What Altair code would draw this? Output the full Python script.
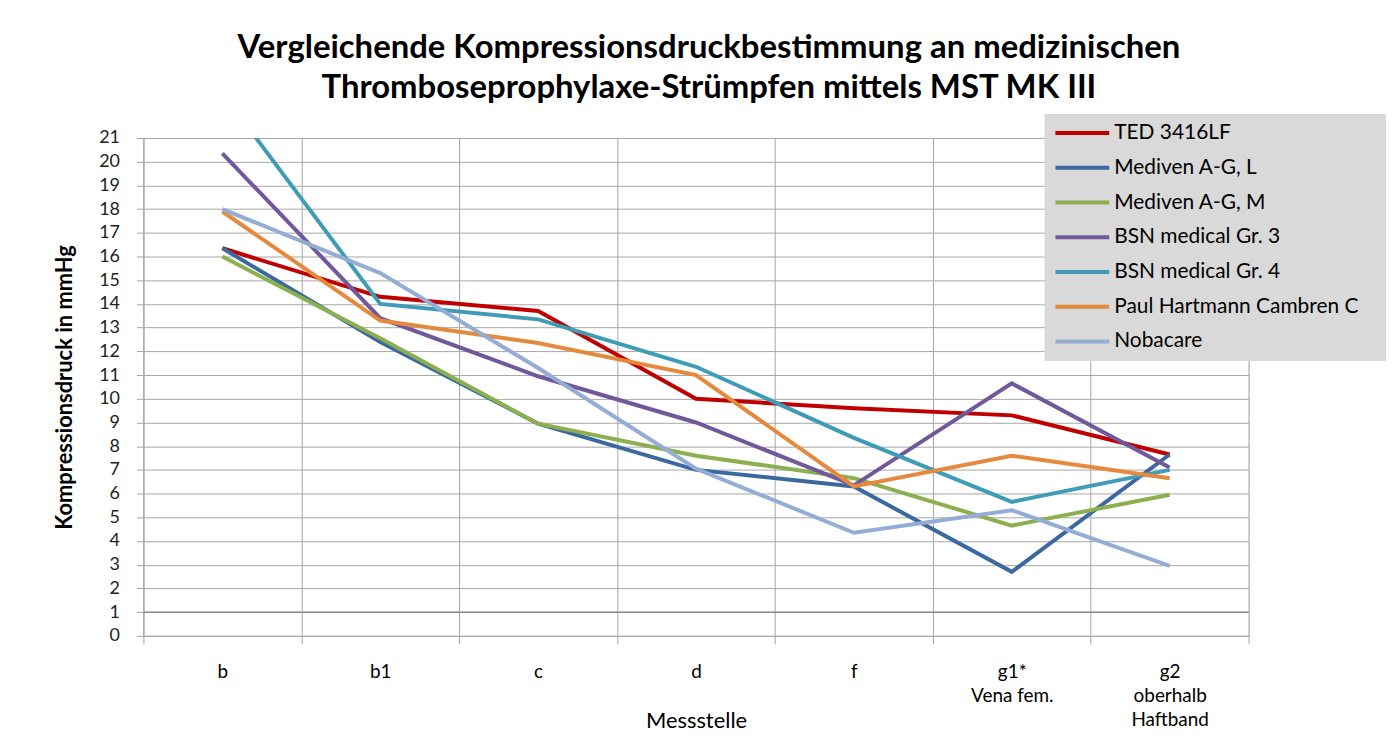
import altair as alt
import pandas as pd

# --- data ---------------------------------------------------------------
categories = ["b", "b1", "c", "d", "f", "g1*\nVena fem.", "g2\noberhalb\nHaftband"]

series = [
    "TED 3416LF",
    "Mediven A-G, L",
    "Mediven A-G, M",
    "BSN medical Gr. 3",
    "BSN medical Gr. 4",
    "Paul Hartmann Cambren C",
    "Nobacare",
]

ted = [16.35, 14.3, 13.7, 10.0, 9.6, 9.3, 7.65]
mediven_l = [16.35, 12.4, 8.95, 7.0, 6.3, 2.7, 7.65]
mediven_m = [16.0, 12.55, 8.95, 7.6, 6.65, 4.65, 5.95]
bsn3 = [20.35, 13.4, 10.95, 9.0, 6.35, 10.65, 7.1]
bsn4 = [22.9, 14.0, 13.35, 11.35, 8.35, 5.65, 7.0]
hartmann = [17.9, 13.3, 12.35, 11.0, 6.3, 7.6, 6.65]
nobacare = [18.0, 15.3, 11.3, 7.05, 4.35, 5.3, 2.95]

colors = ["#C00000", "#3C68A0", "#8CAF4F", "#71589A", "#3F9CB6", "#E5893D", "#94ADD4"]

y_ticks = list(range(0, 22))
axis_cross = [1]

title_lines = [
    "Vergleichende Kompressionsdruckbestimmung an medizinischen",
    "Thromboseprophylaxe-Strümpfen mittels MST MK III",
]

# --- table --------------------------------------------------------------
values = [ted, mediven_l, mediven_m, bsn3, bsn4, hartmann, nobacare]
rows = []
for name, vals in zip(series, values):
    for i, (cat, v) in enumerate(zip(categories, vals)):
        rows.append({"Serie": name, "Messstelle": cat, "idx": i, "Wert": v})
df = pd.DataFrame(rows)

FONT = "Lato"
GRID = "#a6a6a6"
Y_TITLE = "Kompressionsdruck in mmHg"

pad_label = "\u00a0" * 10 + "\u2800"
label_expr = (
    "datum.label == 'Paul Hartmann Cambren C' ? datum.label + '" + pad_label + "' : datum.label"
)

y_axis = alt.Axis(
    title=Y_TITLE,
    values=y_ticks,
    labelFont=FONT,
    labelFontSize=18,
    labelColor="#222222",
    labelPadding=17,
    tickSize=7,
    tickColor=GRID,
    domainColor=GRID,
    grid=True,
    gridColor=GRID,
    titleFont=FONT,
    titleFontSize=22,
    titleFontWeight="bold",
    titleColor="#000000",
    titleX=-79,
    titleBaseline="middle",
)
y_scale = alt.Scale(domain=[0, 21], nice=False, zero=True)

lines = alt.Chart(df).mark_line(strokeWidth=4, clip=True).encode(
    x=alt.X(
        "Messstelle:N",
        sort=categories,
        bandPosition=0.5,
        scale=alt.Scale(type="band", paddingInner=0, paddingOuter=0),
        axis=alt.Axis(
            title="Messstelle",
            labelAngle=0,
            labelExpr="split(datum.label, '\\n')",
            labelLineHeight=24,
            labelFont=FONT,
            labelFontSize=19,
            labelColor="#000000",
            labelPadding=19,
            labelBaseline="top",
            tickBand="extent",
            tickSize=8,
            tickColor=GRID,
            domainColor=GRID,
            grid=True,
            gridColor=GRID,
            titleFont=FONT,
            titleFontSize=22,
            titleFontWeight="normal",
            titleColor="#000000",
            titleY=85,
            titleBaseline="middle",
        ),
    ),
    y=alt.Y("Wert:Q", scale=y_scale, axis=y_axis),
    color=alt.Color(
        "Serie:N",
        sort=series,
        scale=alt.Scale(domain=series, range=colors),
        legend=alt.Legend(
            title=None,
            orient="none",
            legendX=905,
            legendY=-24,
            fillColor="#d9d9d9",
            padding=9,
            symbolType="stroke",
            symbolSize=2916,
            symbolStrokeWidth=4,
            clipHeight=20,
            rowPadding=13.9,
            labelOffset=3,
            labelFont=FONT,
            labelFontSize=21,
            labelColor="#000000",
            labelLimit=600,
            labelExpr=label_expr,
        ),
    ),
    order=alt.Order("idx:Q"),
)

axis_line = alt.Chart(pd.DataFrame({"Wert": axis_cross})).mark_rule(
    color="#888888", strokeWidth=1.5
).encode(y=alt.Y("Wert:Q", scale=y_scale, axis=y_axis))

chart = alt.layer(axis_line, lines).properties(
    width=1110,
    height=500,
    autosize=alt.AutoSizeParams(type="none"),
    padding={"left": 136, "top": 129, "right": 138, "bottom": 95},
    title=alt.TitleParams(
        text=title_lines,
        font=FONT,
        fontSize=33,
        fontWeight="bold",
        color="#000000",
        anchor="middle",
        baseline="bottom",
        lineHeight=40,
        offset=9,
        dx=13,
        dy=33,
    ),
).configure_view(stroke=GRID, strokeWidth=1).configure(background="white")

chart.save("out.html", embed_options={"renderer": "svg", "actions": False})
